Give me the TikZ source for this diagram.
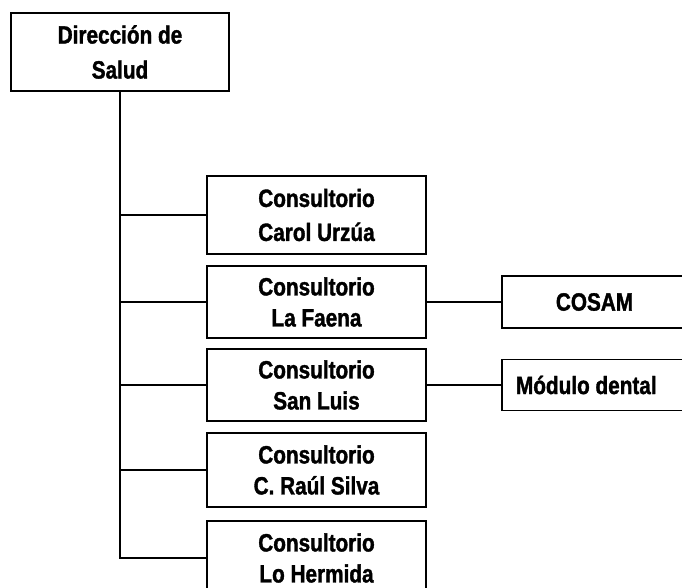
\documentclass[tikz,border=0pt]{standalone}
\usepackage{fontspec}
\setmainfont{Liberation Sans}[FakeStretch=0.83, BoldFeatures={FakeBold=1.4}]
\usetikzlibrary{positioning}

\begin{document}
\begin{tikzpicture}[x=1pt, y=-1pt,
    unitbox/.style={rectangle, draw=black, line width=1.8pt, inner sep=0pt, align=center,
                 minimum width=219, minimum height=72, font=\fontsize{25}{31}\selectfont\bfseries},
    link/.style={line width=1.4pt, black}
]
\useasboundingbox (0,0) rectangle (682,588);
\clip (0,0) rectangle (682,588);

\node[unitbox, minimum width=218, minimum height=78, font=\fontsize{25}{35}\selectfont\bfseries] (dir) at (120,52) {Dirección de\\Salud};

\node[unitbox, minimum height=78, font=\fontsize{25}{34}\selectfont\bfseries] (carol) at (316.5,215) {Consultorio\\Carol Urzúa};
\node[unitbox] (faena)   at (316.5,302) {Consultorio\\La Faena};
\node[unitbox] (sanluis) at (316.5,385) {Consultorio\\San Luis};
\node[unitbox, minimum height=74] (silva)   at (316.5,470) {Consultorio\\C. Raúl Silva};
\node[unitbox, minimum height=74] (hermida) at (316.5,558) {Consultorio\\Lo Hermida};

\node[unitbox, minimum width=185, minimum height=52] (cosam) at (594.5,302) {COSAM};
\node[unitbox, minimum width=185, minimum height=51, text width=157, inner xsep=14pt, align=flush left] (dental) at (594.5,385) {Módulo dental};

\draw[link] (dir.south) |- (carol.west);
\draw[link] (dir.south) |- (faena.west);
\draw[link] (dir.south) |- (sanluis.west);
\draw[link] (dir.south) |- (silva.west);
\draw[link] (dir.south) |- (hermida.west);

\draw[link] (faena.east) -- (cosam.west);
\draw[link] (sanluis.east) -- (dental.west);
\end{tikzpicture}
\end{document}
